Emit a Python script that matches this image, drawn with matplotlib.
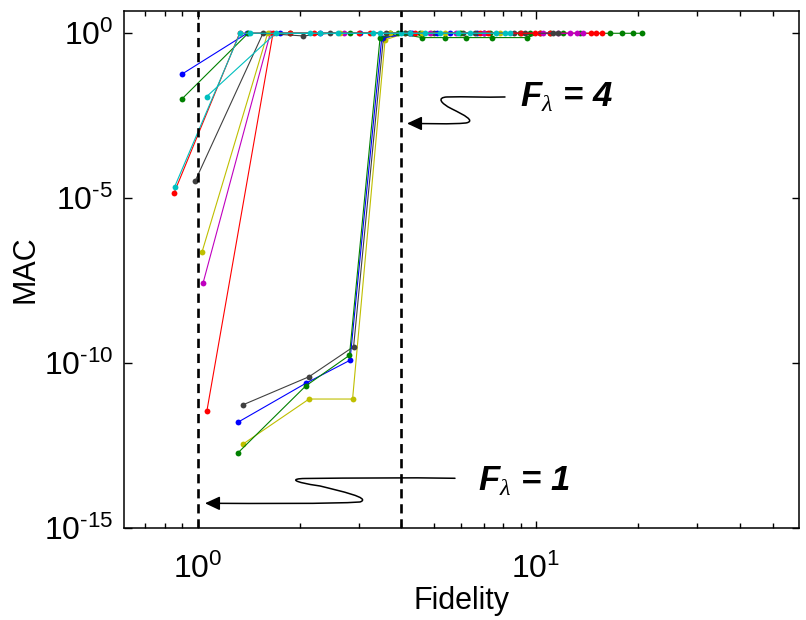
import matplotlib
matplotlib.use("Agg")
import matplotlib.pyplot as plt
from matplotlib.path import Path
from matplotlib.patches import FancyArrowPatch
from matplotlib.ticker import FixedLocator, NullLocator, FixedFormatter, NullFormatter

plt.rcParams["font.family"] = ["Liberation Sans", "DejaVu Sans"]
plt.rcParams["mathtext.fontset"] = "custom"
plt.rcParams["mathtext.rm"] = "Liberation Sans"
plt.rcParams["mathtext.it"] = "Liberation Serif:italic"
plt.rcParams["mathtext.bf"] = "Liberation Sans:bold"
plt.rcParams["mathtext.bfit"] = "Liberation Sans:italic:bold"
plt.rcParams["axes.unicode_minus"] = False

# ---- MAC versus fidelity for each mode track ----
# modes whose sweep starts close to fidelity 1
fid_blue_a = [0.897, 1.40, 1.75, 2.30, 3.02, 4.25, 5.58]
mac_blue_a = [5.7e-2, 1, 1, 1, 1, 1, 1]
fid_green_a = [0.897, 1.41, 1.88, 2.82, 3.71, 4.55, 5.97, 7.32, 8.99, 9.62, 11.0, 13.5, 16.6, 18.0, 19.3, 20.6]
mac_green_a = [1.0e-2, 1, 1, 1, 1, 1, 1, 1, 1, 1, 1, 1, 1, 1, 1, 1]
fid_red_a = [0.851, 1.33, 1.88, 3.24, 6.84, 9.0, 10.3, 11.0, 14.5, 15.0, 15.7]
mac_red_a = [1.4e-5, 1, 1, 1, 1, 1, 1, 1, 1, 1, 1]
fid_cyan_a = [0.855, 1.334, 1.43, 2.15, 2.30, 3.46, 4.0, 4.25, 5.21, 6.39, 8.1, 8.39]
mac_cyan_a = [2.2e-5, 1, 1, 1, 1, 1, 1, 1, 1, 1, 1, 1]
fid_magenta_a = [1.037, 1.64, 2.70, 4.87, 5.8, 7.0, 10.5, 11.6, 12.6, 13.2, 13.8]
mac_magenta_a = [2.6e-8, 1, 1, 1, 1, 1, 1, 1, 1, 1, 1]
fid_yellow_a = [1.03, 1.61, 2.64, 3.71, 4.6, 5.4, 7.84]
mac_yellow_a = [2.3e-7, 1, 1, 1, 1, 1, 1]
fid_black_a = [0.982, 1.56, 2.05, 2.46, 3.6, 4.2, 6.6, 9.3, 11.2, 11.6]
mac_black_a = [3.2e-5, 1, 0.83, 1, 1, 1, 1, 1, 1, 1]
fid_red_b = [1.065, 1.67, 2.2, 3.0, 4.4, 7.2, 9.9]
mac_red_b = [3.5e-12, 1, 1, 1, 1, 1, 1]
fid_cyan_b = [1.063, 1.70, 2.6, 3.3, 4.7, 5.9, 7.6]
mac_cyan_b = [1.2e-2, 1, 1, 1, 1, 1, 1]

# modes that only correlate beyond fidelity ~3.5
fid_black_b = [1.359, 2.134, 2.89, 3.54, 4.1, 5.0, 6.1, 7.0, 8.6]
mac_black_b = [5.3e-12, 3.8e-11, 3.1e-10, 0.72, 1, 1, 1, 1, 1]
fid_blue_b = [1.318, 2.087, 2.82, 3.50, 4.3, 5.1, 6.7]
mac_blue_b = [1.6e-12, 2.4e-11, 1.2e-10, 0.72, 1, 1, 1]
fid_green_b = [1.318, 2.087, 2.81, 3.46, 3.9, 4.6, 5.4, 6.2, 7.4, 9.4, 10.3, 12.0]
mac_green_b = [1.9e-13, 2.0e-11, 1.7e-10, 0.72, 1.0, 0.74, 0.74, 0.74, 0.74, 0.74, 1, 1]
fid_yellow_b = [1.359, 2.134, 2.87, 3.58, 4.1, 4.9, 6.0, 7.0]
mac_yellow_b = [3.4e-13, 8e-12, 8e-12, 0.63, 1, 1, 1, 1]

# reference fidelity levels
f_lambda = [1, 4]

# axis ticks and their labels
x_ticks = [1, 10]
x_tick_labels = [r"$\mathregular{10^{0}}$", r"$\mathregular{10^{1}}$"]
x_minor_ticks = [0.7, 0.8, 0.9, 2, 3, 4, 5, 6, 7, 8, 9, 20, 30, 40, 50]
y_ticks = [1e-15, 1e-10, 1e-5, 1e0]
y_tick_labels = [r"$\mathregular{10^{\text{-}15}}$", r"$\mathregular{10^{\text{-}10}}$",
                 r"$\mathregular{10^{\text{-}5}}$", r"$\mathregular{10^{0}}$"]

C_B = (0, 0, 1)
C_G = (0, 0.5, 0)
C_R = (1, 0, 0)
C_C = (0, 0.75, 0.75)
C_M = (0.75, 0, 0.75)
C_Y = (0.75, 0.75, 0)
C_K = (0.25, 0.25, 0.25)

tracks = [
    (fid_yellow_b, mac_yellow_b, C_Y),
    (fid_black_b, mac_black_b, C_K),
    (fid_blue_b, mac_blue_b, C_B),
    (fid_green_b, mac_green_b, C_G),
    (fid_blue_a, mac_blue_a, C_B),
    (fid_green_a, mac_green_a, C_G),
    (fid_red_a, mac_red_a, C_R),
    (fid_magenta_a, mac_magenta_a, C_M),
    (fid_yellow_a, mac_yellow_a, C_Y),
    (fid_black_a, mac_black_a, C_K),
    (fid_red_b, mac_red_b, C_R),
    (fid_cyan_b, mac_cyan_b, C_C),
    (fid_cyan_a, mac_cyan_a, C_C),
]

fig = plt.figure(figsize=(8.06, 6.20), dpi=100)
ax = fig.add_axes([0.1542, 0.1489, 0.8375, 0.8334])

for fx, my, col in tracks:
    ax.plot(fx, my, color=col, lw=0.8, marker="o", ms=4.2, mew=0)

for fl in f_lambda:
    ax.axvline(fl, color="k", lw=1.9, ls=(0, (3.5, 2.2)), zorder=5)

ax.set_xscale("log")
ax.set_yscale("log")
ax.set_xlim(0.607, 60.0)
ax.set_ylim(1e-15, 4.75)

ax.xaxis.set_major_locator(FixedLocator(x_ticks))
ax.xaxis.set_major_formatter(FixedFormatter(x_tick_labels))
ax.xaxis.set_minor_locator(FixedLocator(x_minor_ticks))
ax.xaxis.set_minor_formatter(NullFormatter())
ax.yaxis.set_major_locator(FixedLocator(y_ticks))
ax.yaxis.set_major_formatter(FixedFormatter(y_tick_labels))
ax.yaxis.set_minor_locator(NullLocator())

ax.tick_params(which="both", direction="in", top=True, right=True, width=1.0, colors="k")
ax.tick_params(which="major", length=5.4, labelsize=23)
ax.tick_params(which="minor", length=3.6)
ax.tick_params(axis="x", which="major", pad=19)
ax.tick_params(axis="y", which="major", pad=8)
for sp in ax.spines.values():
    sp.set_linewidth(1.1)

ax.set_xlabel("Fidelity", fontsize=22, va="top")
ax.xaxis.set_label_coords(0.5, -0.112)
ax.set_ylabel("MAC", fontsize=22)
ax.yaxis.set_label_coords(-0.124, 0.5)

# labels for the two reference fidelity levels
ax.text(0.5862, 0.8145, r"$\mathbfit{F}_{\lambda}$ = 4", transform=ax.transAxes,
        fontsize=25, fontweight="bold", fontstyle="italic", va="baseline", ha="left")
ax.text(0.5241, 0.0719, r"$\mathbfit{F}_{\lambda}$ = 1", transform=ax.transAxes,
        fontsize=25, fontweight="bold", fontstyle="italic", va="baseline", ha="left")

def s_arrow(pts):
    codes = [Path.MOVETO] + [Path.CURVE4] * (len(pts) - 1)
    path = Path(pts, codes)
    arr = FancyArrowPatch(path=path, arrowstyle="-|>,head_length=0.6,head_width=0.28",
                          mutation_scale=15, lw=1.1, color="k",
                          transform=ax.transAxes, clip_on=False, zorder=6)
    ax.add_patch(arr)

def px(x, y):
    return ((x - 124.3) / 675.0, (527.7 - y) / 516.7)

s_arrow([px(505, 97), px(485, 97.5), px(465, 96.5), px(447, 97),
         px(437, 97.5), px(440, 103), px(452, 109),
         px(464, 115), px(476, 121), px(466, 123),
         px(450, 124.5), px(430, 123.5), px(407, 123.5)])

s_arrow([px(455, 478.3), px(405, 477.5), px(355, 478), px(305, 478.5),
         px(290, 478.7), px(292, 482), px(320, 486),
         px(340, 491), px(372, 498), px(360, 502),
         px(330, 504), px(260, 503.5), px(205, 503.3)])

fig.savefig("out.png", dpi=100)
